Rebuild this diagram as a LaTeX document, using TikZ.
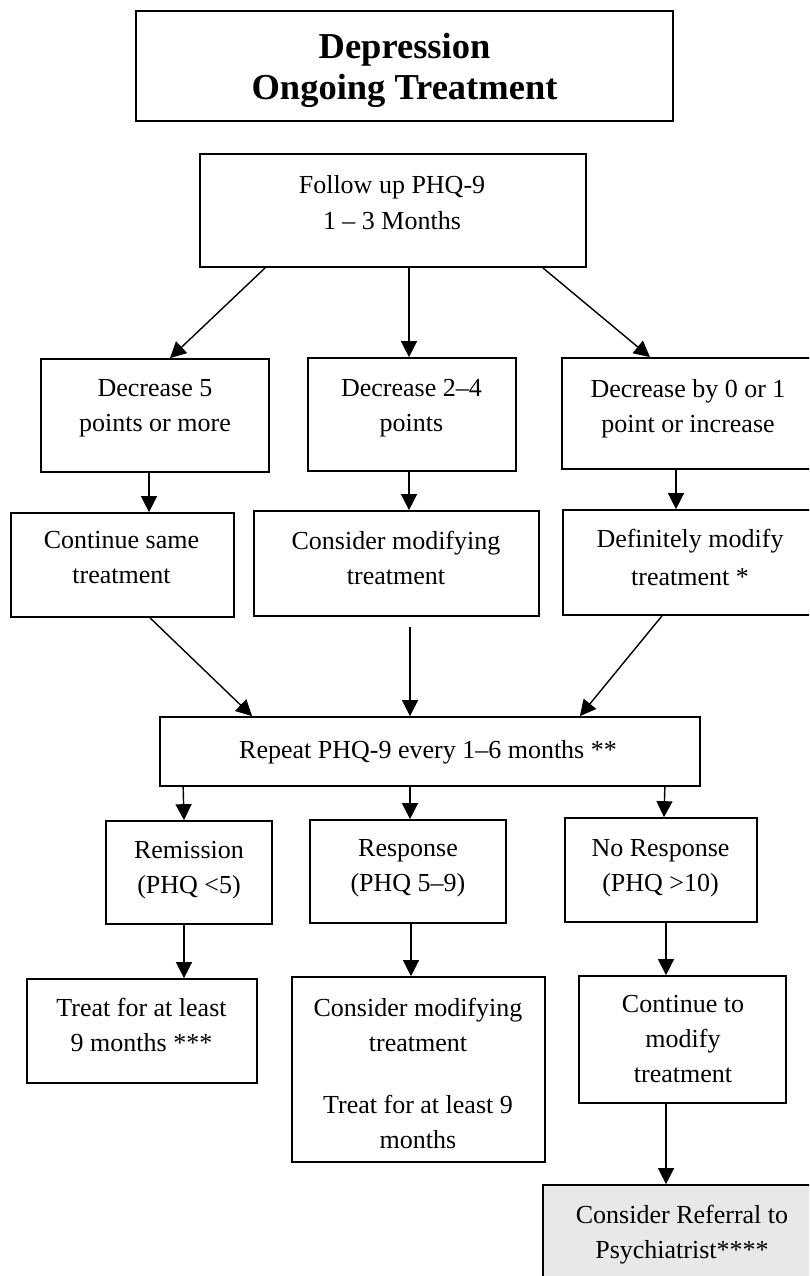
\documentclass[tikz,border=0pt]{standalone}
\usepackage{fontspec}
\setmainfont{Liberation Serif}
\usetikzlibrary{arrows.meta,calc}
\begin{document}
\begin{tikzpicture}[x=1pt,y=-1pt,
 box/.style={draw,line width=1.7pt,inner sep=0pt},
 txt/.style={inner sep=0pt,anchor=north,align=center,font=\fontsize{26}{35}\selectfont},
 arr/.style={line width=1.4pt,-{Triangle[length=16pt,width=16pt]}}]
\useasboundingbox (0,0) rectangle (809,1276);
\clip (0,0) rectangle (809,1276);
\fill[white] (0,0) rectangle (809,1276);

% boxes
\node[box,minimum width=537pt,minimum height=110pt] (title) at (404.5,66) {};
\node[box,minimum width=386pt,minimum height=113pt] (fu) at (393,210.5) {};
\node[box,minimum width=228pt,minimum height=113pt] (A) at (155,415.5) {};
\node[box,minimum width=208pt,minimum height=113pt] (B) at (412,414.5) {};
\node[box,minimum width=252pt,minimum height=111pt] (C) at (688,413.5) {};
\node[box,minimum width=223pt,minimum height=104pt] (D) at (122.5,565) {};
\node[box,minimum width=285pt,minimum height=105pt] (E) at (396.5,563.5) {};
\node[box,minimum width=254pt,minimum height=105pt] (F) at (690,562.5) {};
\node[box,minimum width=540pt,minimum height=69pt] (R) at (430,751.5) {};
\node[box,minimum width=166pt,minimum height=103pt] (G) at (189,872.5) {};
\node[box,minimum width=196pt,minimum height=103pt] (H) at (408,871.5) {};
\node[box,minimum width=192pt,minimum height=104pt] (I) at (661,870) {};
\node[box,minimum width=230pt,minimum height=104pt] (J) at (142,1031) {};
\node[box,minimum width=253pt,minimum height=185pt] (K) at (418.5,1069.5) {};
\node[box,minimum width=207pt,minimum height=127pt] (L) at (682.5,1039.5) {};
\node[box,fill=black!9,minimum width=287pt,minimum height=115pt] (M) at (686.5,1242.5) {};

% texts
\node[txt,font=\bfseries\fontsize{36.5}{41}\selectfont] (title-t) at (404.5,33) {Depression\\Ongoing Treatment};
\node[txt] (fu-t) at (392,175) {Follow up PHQ-9\\[1pt]1 -- 3 Months};
\node[txt] (A-t) at (155,379) {Decrease 5\\points or more};
\node[txt] (B-t) at (411.5,379) {Decrease 2--4\\points};
\node[txt] (C-t) at (688,379) {Decrease by 0 or 1\\point or increase};
\node[txt] (D-t) at (121.5,531) {Continue same\\treatment};
\node[txt] (E-t) at (396,531) {Consider modifying\\treatment};
\node[txt] (F-t) at (690,529) {Definitely modify\\[3pt]treatment *};
\node[txt] (R-t) at (428,740) {Repeat PHQ-9 every 1--6 months **};
\node[txt] (G-t) at (189,841) {Remission\\(PHQ <5)};
\node[txt] (H-t) at (408,839) {Response\\(PHQ 5--9)};
\node[txt] (I-t) at (660.5,839) {No Response\\(PHQ >10)};
\node[txt] (J-t) at (141.5,998) {Treat for at least\\9 months ***};
\node[txt] (K-t) at (418,998) {Consider modifying\\treatment\\[27pt]Treat for at least 9\\months};
\node[txt] (L-t) at (683,995) {Continue to\\modify\\treatment};
\node[txt] (M-t) at (682,1205) {Consider Referral to\\Psychiatrist****};

% connectors
\draw[arr] ($(fu.south west)+(66,0)$) -- ($(A.north)+(15,0)$);
\draw[arr] ($(fu.south)+(16,0)$) -- ($(B.north)+(-3,0)$);
\draw[arr] ($(fu.south east)+(-44,0)$) -- ($(C.north)+(-38,0)$);
\draw[arr] ($(A.south)+(-6,0)$) -- ($(D.north)+(26.5,0)$);
\draw[arr] ($(B.south)+(-3,0)$) -- ($(E.north)+(12.5,0)$);
\draw[arr] ($(C.south)+(-12,0)$) -- ($(F.north)+(-14,0)$);
\draw[arr] ($(D.south)+(27.5,0)$) -- ($(R.north west)+(93,0)$);
\draw[arr] ($(E.south)+(13.5,10)$) -- ($(R.north)+(-20,0)$);
\draw[arr] ($(F.south)+(-28,0)$) -- ($(R.north east)+(-121,0)$);
\draw[arr] ($(R.south west)+(24,0)$) -- ($(G.north)+(-5,0)$);
\draw[arr] ($(R.south)+(-20,0)$) -- ($(H.north)+(2,0)$);
\draw[arr] ($(R.south east)+(-36,0)$) -- ($(I.north)+(3,0)$);
\draw[arr] ($(G.south)+(-5,0)$) -- ($(J.north)+(42,0)$);
\draw[arr] ($(H.south)+(3,0)$) -- ($(K.north)+(-7.5,0)$);
\draw[arr] ($(I.south)+(5,0)$) -- ($(L.north)+(-16.5,0)$);
\draw[arr] ($(L.south)+(-16.5,0)$) -- ($(M.north)+(-20.5,0)$);
\end{tikzpicture}
\end{document}
